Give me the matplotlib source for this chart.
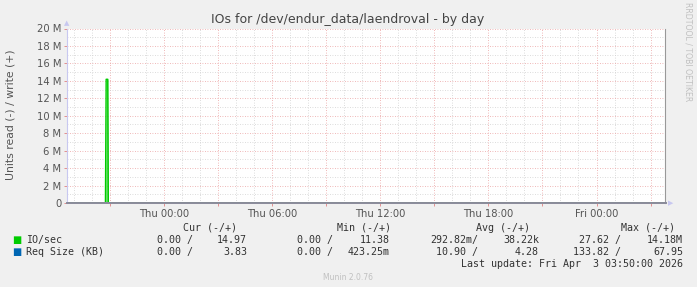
import matplotlib
matplotlib.use("Agg")
import matplotlib.pyplot as plt
from matplotlib.ticker import MultipleLocator, FuncFormatter

# time in hours relative to Thu 00:00
t_start = -5.41
t_end = 27.83
io_times = [-5.41, -3.26, -3.22, -3.13, -3.10, 27.83]
io_write = [14.97, 14.97, 14.18e6, 14.18e6, 14.97, 14.97]
io_read = [0, 0, 0, 0, 0, 0]
req_times = [-5.41, 27.83]
req_write = [3.83, 3.83]

tick_hours = [0, 6, 12, 18, 24]
tick_labels = ["Thu 00:00", "Thu 06:00", "Thu 12:00", "Thu 18:00", "Fri 00:00"]

legend_names = ["IO/sec", "Req Size (KB)"]
legend_colors = ["#00cc00", "#0066b3"]
cur = [("0.00 /", "14.97"), ("0.00 /", "3.83")]
mins = [("0.00 /", "11.38"), ("0.00 /", "423.25m")]
avgs = [("292.82m/", "38.22k"), ("10.90 /", "4.28")]
maxs = [("27.62 /", "14.18M"), ("133.82 /", "67.95")]

W, H = 697, 287
fig = plt.figure(figsize=(W / 100, H / 100), dpi=100, facecolor="#f0f0f0")
ax = fig.add_axes([66.7 / W, 1 - 203 / H, (665.5 - 66.7) / W, (203 - 28.5) / H])
ax.set_facecolor("white")

ax.fill_between(io_times, io_write, 0, color="#00cc00", alpha=0.55, lw=0, zorder=2)
ax.plot(io_times, io_write, color="#00cc00", lw=1.0, zorder=3)
ax.plot(io_times, io_read, color="#00cc00", lw=0.6, zorder=2)
ax.plot(req_times, req_write, color="#0066b3", lw=0.6, zorder=2)

ax.set_xlim(t_start, t_end)
ax.set_ylim(0, 20e6)

ax.xaxis.set_major_locator(MultipleLocator(3))
ax.xaxis.set_minor_locator(MultipleLocator(1))
lab = dict(zip(tick_hours, tick_labels))
ax.xaxis.set_major_formatter(FuncFormatter(lambda v, p: lab.get(int(round(v)), "")))
ax.yaxis.set_major_locator(MultipleLocator(2e6))
ax.yaxis.set_minor_locator(MultipleLocator(1e6))
ax.yaxis.set_major_formatter(FuncFormatter(lambda v, p: "0" if v == 0 else "%d M" % round(v / 1e6)))

ax.grid(which="minor", color="#d0d0d0", linestyle=(0, (1, 2)), lw=0.6, zorder=1)
ax.grid(which="major", color="#eaa0a0", linestyle=(0, (1, 2)), lw=0.6, zorder=1)
ax.tick_params(which="major", length=2, width=0.6, color="#e08080", labelsize=7.2,
               labelcolor="#555555", pad=2)
ax.tick_params(which="minor", length=0)
ax.set_axisbelow(True)

ax.spines["top"].set_visible(False)
ax.spines["left"].set_color("#c8c8f0")
ax.spines["bottom"].set_color("#8a8a9a")
ax.spines["right"].set_color("#999999")
for s in ax.spines.values():
    s.set_linewidth(0.8)
    s.set_zorder(5)
ax.spines["bottom"].set_linewidth(1.4)

# axis arrows
fig.text(66.7 / W, 1 - 23 / H, "\u25b2", color="#c8c8f0", fontsize=5, ha="center", va="center")
fig.text(671 / W, 1 - 203 / H, "\u25b6", color="#c8c8f0", fontsize=5, ha="center", va="center")

fig.text(348 / W, 1 - 19 / H, "IOs for /dev/endur_data/laendroval - by day",
         ha="center", va="center", fontsize=9, color="#444444")
fig.text(11 / W, 1 - 115 / H, "Units read (-) / write (+)", rotation=90,
         ha="center", va="center", fontsize=7.8, color="#555555")
fig.text(688 / W, 1 - 52 / H, "RRDTOOL / TOBI OETIKER", rotation=270,
         ha="center", va="center", fontsize=5.6, color="#c0c0c0")

mono = dict(family="DejaVu Sans Mono", fontsize=7.2, color="#333333", va="center")
headers = [("Cur (-/+)", 237), ("Min (-/+)", 391), ("Avg (-/+)", 530), ("Max (-/+)", 675)]
for txt, x in headers:
    fig.text(x / W, 1 - 228 / H, txt, ha="right", **mono)

cols = [(cur, 193, 247), (mins, 333, 390), (avgs, 478, 539), (maxs, 621, 683)]
for i, name in enumerate(legend_names):
    y = 1 - (240 + 11.8 * i) / H
    fig.text(17 / W, y, "\u25a0", color=legend_colors[i], fontsize=7, ha="center", va="center")
    fig.text(26 / W, y, name, ha="left", **mono)
    for vals, x1, x2 in cols:
        fig.text(x1 / W, y, vals[i][0], ha="right", **mono)
        fig.text(x2 / W, y, vals[i][1], ha="right", **mono)

fig.text(683 / W, 1 - 264 / H, "Last update: Fri Apr  3 03:50:00 2026", ha="right", **mono)
fig.text(348 / W, 1 - 277 / H, "Munin 2.0.76", ha="center", va="center",
         fontsize=5.5, color="#c0c0c0")

fig.savefig("out.png", dpi=100, facecolor=fig.get_facecolor())
